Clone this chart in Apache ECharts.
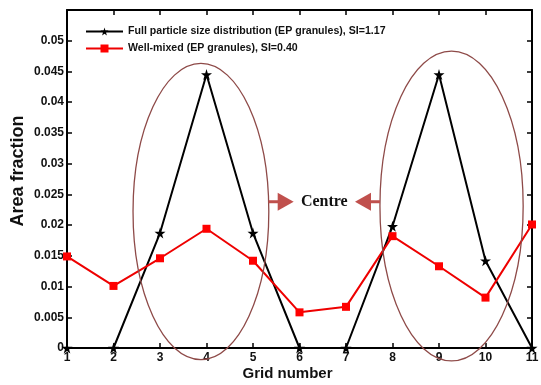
<!DOCTYPE html>
<html>
<head>
<meta charset="utf-8">
<script src="https://cdn.jsdelivr.net/npm/echarts@6/dist/echarts.min.js"></script>
<style>
  html, body { margin: 0; padding: 0; background: #fff; }
  #main { width: 541px; height: 385px; }
</style>
</head>
<body>
<div id="main"></div>
<script>
// data
var gridNumbers = [1, 2, 3, 4, 5, 6, 7, 8, 9, 10, 11];
var fullPsd = [0, 0, 0.0187, 0.0445, 0.0187, 0, 0, 0.0198, 0.0445, 0.0142, 0];
var wellMixed = [0.0149, 0.0101, 0.0146, 0.0194, 0.0142, 0.0058, 0.0067, 0.0182, 0.0133, 0.0082, 0.0201];
var seriesNames = ['Full particle size distribution (EP granules), SI=1.17', 'Well-mixed (EP granules), SI=0.40'];

// circled regions (data units) and the "Centre" note
var rings = [
    { cx: 3.88, cy: 0.0222, rx: 1.46, ry: 0.0241 },
    { cx: 9.27, cy: 0.0231, rx: 1.54, ry: 0.0252 }
];
var noteText = 'Centre';
var noteY = 0.0238;

var star = 'path://M50,0 L61,35 L98,35 L68,57 L79,91 L50,70 L21,91 L32,57 L2,35 L39,35 Z';
var font = 'Liberation Sans';

function pairs(xs, ys) {
    return xs.map(function (x, i) { return [x, ys[i]]; });
}

var myChart = echarts.init(document.getElementById('main'));

var axisLine = { show: true, onZero: false, lineStyle: { color: '#000', width: 2 } };
var axisTick = { show: true, inside: true, length: 5, lineStyle: { color: '#000', width: 1.5 } };

var option = {
    backgroundColor: '#fff',
    animation: false,
    grid: { left: 67, right: 9, top: 10, bottom: 37, outerBoundsMode: 'none' },
    legend: {
        orient: 'vertical',
        left: 85,
        top: 26,
        padding: 0,
        itemWidth: 37,
        itemHeight: 10,
        itemGap: 6,
        textStyle: { fontFamily: font, fontWeight: 'bold', fontSize: 10.6, color: '#111' },
        data: seriesNames
    },
    xAxis: [{
        type: 'value',
        min: 1, max: 11, interval: 1,
        name: 'Grid number',
        nameLocation: 'middle',
        nameGap: 18,
        nameMoveOverlap: false,
        nameTextStyle: { fontFamily: font, fontWeight: 'bold', fontSize: 15, color: '#111', padding: [0, 24, 0, 0] },
        axisLine: axisLine,
        axisTick: axisTick,
        axisLabel: { fontFamily: font, fontWeight: 'bold', fontSize: 12, color: '#111', margin: 4 },
        splitLine: { show: false }
    }, {
        type: 'value',
        position: 'top',
        min: 1, max: 11, interval: 1,
        axisLine: axisLine,
        axisTick: axisTick,
        axisLabel: { show: false },
        splitLine: { show: false }
    }],
    yAxis: [{
        type: 'value',
        min: 0, max: 0.055, interval: 0.005,
        name: 'Area fraction',
        nameLocation: 'middle',
        nameGap: 40,
        nameMoveOverlap: false,
        nameTextStyle: { fontFamily: font, fontWeight: 'bold', fontSize: 18, color: '#111', padding: [0, 0, 0, 16] },
        axisLine: axisLine,
        axisTick: axisTick,
        axisLabel: {
            fontFamily: font, fontWeight: 'bold', fontSize: 12, color: '#111', margin: 3,
            formatter: function (v) { return v > 0.0501 ? '' : String(+v.toFixed(3)); }
        },
        splitLine: { show: false }
    }, {
        type: 'value',
        position: 'right',
        min: 0, max: 0.055, interval: 0.005,
        axisLine: axisLine,
        axisTick: axisTick,
        axisLabel: { show: false },
        splitLine: { show: false }
    }],
    series: [{
        name: seriesNames[0],
        type: 'line',
        data: pairs(gridNumbers, fullPsd),
        symbol: star,
        symbolSize: 11,
        itemStyle: { color: '#000' },
        lineStyle: { color: '#000', width: 2 },
        z: 3
    }, {
        name: seriesNames[1],
        type: 'line',
        data: pairs(gridNumbers, wellMixed),
        symbol: 'rect',
        symbolSize: 8,
        itemStyle: { color: '#ff0000' },
        lineStyle: { color: '#ee0000', width: 2 },
        z: 4
    }]
};
myChart.setOption(option);

// ellipses, arrows and note placed through the axes
var ringColor = '#8e4a48';
var arrowColor = '#c0504d';
var els = [];
var px = rings.map(function (r) {
    var c = myChart.convertToPixel({ gridIndex: 0 }, [r.cx, r.cy]);
    var e = myChart.convertToPixel({ gridIndex: 0 }, [r.cx + r.rx, r.cy + r.ry]);
    return { cx: c[0], cy: c[1], rx: Math.abs(e[0] - c[0]), ry: Math.abs(c[1] - e[1]) };
});
px.forEach(function (p) {
    els.push({
        type: 'ellipse',
        shape: { cx: p.cx, cy: p.cy, rx: p.rx, ry: p.ry },
        style: { fill: null, stroke: ringColor, lineWidth: 1.3 },
        z: 10
    });
});
var ay = myChart.convertToPixel({ gridIndex: 0 }, [1, noteY])[1];
function edgeX(p, side) {
    var t = (ay - p.cy) / p.ry;
    return p.cx + side * p.rx * Math.sqrt(Math.max(0, 1 - t * t));
}
var lx = edgeX(px[0], 1), rx = edgeX(px[1], -1);
// right-pointing arrow
els.push({ type: 'line', shape: { x1: lx, y1: ay, x2: lx + 10, y2: ay }, style: { stroke: arrowColor, lineWidth: 3 }, z: 10 });
els.push({ type: 'polygon', shape: { points: [[lx + 9, ay - 9], [lx + 25, ay], [lx + 9, ay + 9]] }, style: { fill: arrowColor }, z: 10 });
// left-pointing arrow
els.push({ type: 'line', shape: { x1: rx, y1: ay, x2: rx - 10, y2: ay }, style: { stroke: arrowColor, lineWidth: 3 }, z: 10 });
els.push({ type: 'polygon', shape: { points: [[rx - 9, ay - 9], [rx - 25, ay], [rx - 9, ay + 9]] }, style: { fill: arrowColor }, z: 10 });
els.push({
    type: 'text',
    x: (lx + rx) / 2,
    y: ay,
    style: {
        text: noteText, fontFamily: 'Liberation Serif', fontWeight: 'bold', fontSize: 16,
        fill: '#111', align: 'center', verticalAlign: 'middle'
    },
    z: 10
});
myChart.setOption({ graphic: { elements: els } });
</script>
</body>
</html>
